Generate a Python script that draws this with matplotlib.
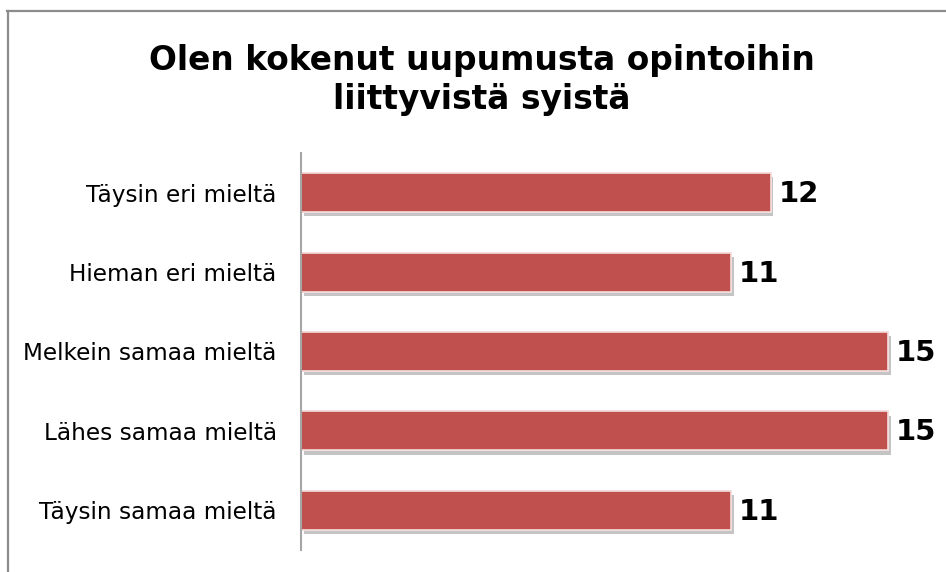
import matplotlib.pyplot as plt
import matplotlib.patheffects as pe
from matplotlib.lines import Line2D

categories = ['Täysin eri mieltä', 'Hieman eri mieltä', 'Melkein samaa mieltä',
              'Lähes samaa mieltä', 'Täysin samaa mieltä']
values = [12, 11, 15, 15, 11]
title = 'Olen kokenut uupumusta opintoihin\nliittyvistä syistä'

W, H = 946, 572
fig = plt.figure(figsize=(W / 100, H / 100), dpi=100)
fig.patch.set_facecolor('white')

# axes area measured in pixels from the reference
left, right, top, bottom = 301, 927, 153, 550
ax = fig.add_axes([left / W, 1 - bottom / H, (right - left) / W, (bottom - top) / H])

y = list(range(len(categories)))
shadow = [pe.withSimplePatchShadow(offset=(2, -3), shadow_rgbFace='#8a8a8a', alpha=0.5), pe.Normal()]
bars = ax.barh(y, values, height=0.49, color='#C0504D', edgecolor='#F4DEDD', linewidth=1.2)
for b in bars:
    b.set_path_effects(shadow)

for yi, v in zip(y, values):
    ax.text(v + 0.2, yi + 0.02, str(v), va='center', ha='left', fontsize=21, fontweight='bold', color='black')

ax.set_xlim(0, 16)
ax.set_ylim(len(categories) - 0.5, -0.5)
ax.set_yticks(y)
ax.set_yticklabels(categories, fontsize=16.7)
ax.tick_params(axis='y', length=0, pad=17.5)
ax.set_xticks([])
for s in ['top', 'right', 'bottom']:
    ax.spines[s].set_visible(False)
ax.spines['left'].set_color('#a6a6a6')
ax.spines['left'].set_linewidth(1.5)

fig.text(482 / W, 1 - 80 / H, title, ha='center', va='center', fontsize=23.7,
         fontweight='bold', linespacing=1.25)

# outer chart border (left and top visible, the rest is cropped)
fig.add_artist(Line2D([7.5 / W, 7.5 / W], [0, 1 - 11 / H], color='#8c8c8c', linewidth=1.6))
fig.add_artist(Line2D([7 / W, 1], [1 - 11 / H, 1 - 11 / H], color='#8c8c8c', linewidth=1.6))

fig.savefig('out.png', dpi=100)
